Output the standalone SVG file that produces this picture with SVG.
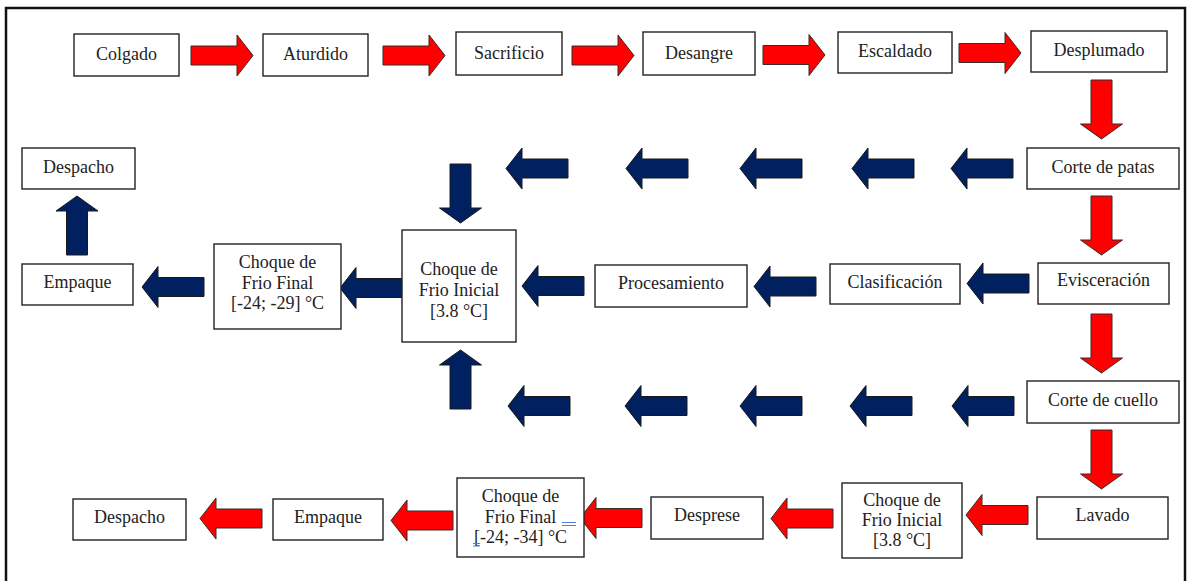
<svg xmlns="http://www.w3.org/2000/svg" width="1189" height="581" viewBox="0 0 1189 581">
<style>
.box{fill:#fff;stroke:#222;stroke-width:1.4}
.t{font-family:'Liberation Serif','DejaVu Serif','Times New Roman',serif;font-size:18px;fill:#222;text-anchor:middle}
.red{fill:#ff0000;stroke:#3a2a2a;stroke-width:1}
.blue{fill:#002060;stroke:#1a1a1a;stroke-width:1}
.mark{stroke:#4a7fe0;stroke-width:1}
</style>
<defs>
<path id="harr" d="M0,-9.5 H46 V-20.5 L62,0 L46,20.5 V9.5 H0 Z"/>
<path id="varr" d="M-10.5,0 V44 H-21 L0,59 L21,44 H10.5 V0 Z"/>
</defs>
<rect x="6" y="8" width="1179" height="590" fill="#fff" stroke="#111" stroke-width="2.5"/>

<g id="connectors">
<use href="#harr" class="red" transform="translate(191,55.5)"/>
<use href="#harr" class="red" transform="translate(383,55.5)"/>
<use href="#harr" class="red" transform="translate(572,55.5)"/>
<use href="#harr" class="red" transform="translate(763,55)"/>
<use href="#harr" class="red" transform="translate(959,53)"/>
<use href="#varr" class="red" transform="translate(1101.5,80)"/>
<use href="#varr" class="red" transform="translate(1101.5,196)"/>
<use href="#varr" class="red" transform="translate(1101.5,314)"/>
<use href="#varr" class="red" transform="translate(1101.5,430)"/>
<use href="#harr" class="blue" transform="translate(1013,168.5) scale(-1,1)"/>
<use href="#harr" class="blue" transform="translate(914,168.5) scale(-1,1)"/>
<use href="#harr" class="blue" transform="translate(802,168.5) scale(-1,1)"/>
<use href="#harr" class="blue" transform="translate(688,168.5) scale(-1,1)"/>
<use href="#harr" class="blue" transform="translate(568,168.5) scale(-1,1)"/>
<use href="#varr" class="blue" transform="translate(460.5,164)"/>
<use href="#varr" class="blue" transform="translate(77,255) scale(1,-1)"/>
<use href="#harr" class="blue" transform="translate(1029,283.5) scale(-1,1)"/>
<use href="#harr" class="blue" transform="translate(816,286.5) scale(-1,1)"/>
<use href="#harr" class="blue" transform="translate(584,286) scale(-1,1)"/>
<use href="#harr" class="blue" transform="translate(402,288) scale(-1,1)"/>
<use href="#harr" class="blue" transform="translate(204,287) scale(-1,1)"/>
<use href="#harr" class="blue" transform="translate(1014,406) scale(-1,1)"/>
<use href="#harr" class="blue" transform="translate(912,406) scale(-1,1)"/>
<use href="#harr" class="blue" transform="translate(802,406) scale(-1,1)"/>
<use href="#harr" class="blue" transform="translate(687,406) scale(-1,1)"/>
<use href="#harr" class="blue" transform="translate(570,406) scale(-1,1)"/>
<use href="#varr" class="blue" transform="translate(460.5,409) scale(1,-1)"/>
<use href="#harr" class="red" transform="translate(1028,515) scale(-1,1)"/>
<use href="#harr" class="red" transform="translate(833,518.5) scale(-1,1)"/>
<use href="#harr" class="red" transform="translate(642,518) scale(-1,1)"/>
<use href="#harr" class="red" transform="translate(453,520.5) scale(-1,1)"/>
<use href="#harr" class="red" transform="translate(262,518.5) scale(-1,1)"/>
</g>

<g id="colgado"><rect class="box" x="74" y="34" width="105" height="42"/><text class="t" x="126.5" y="60">Colgado</text></g>
<g id="aturdido"><rect class="box" x="263" y="34" width="105" height="42"/><text class="t" x="315.5" y="60">Aturdido</text></g>
<g id="sacrificio"><rect class="box" x="456" y="32" width="106" height="43"/><text class="t" x="509" y="58.5">Sacrificio</text></g>
<g id="desangre"><rect class="box" x="643" y="32" width="112" height="43"/><text class="t" x="699" y="58.5">Desangre</text></g>
<g id="escaldado"><rect class="box" x="838" y="32" width="114" height="41"/><text class="t" x="895" y="57">Escaldado</text></g>
<g id="desplumado"><rect class="box" x="1031" y="31" width="136" height="41"/><text class="t" x="1099" y="56">Desplumado</text></g>
<g id="corte-patas"><rect class="box" x="1027" y="148" width="152" height="41"/><text class="t" x="1103" y="173">Corte de patas</text></g>
<g id="despacho-1"><rect class="box" x="22" y="148" width="113" height="41"/><text class="t" x="78.5" y="173">Despacho</text></g>
<g id="evisceracion"><rect class="box" x="1038" y="263" width="131" height="41"/><text class="t" x="1103.5" y="286">Evisceración</text></g>
<g id="clasificacion"><rect class="box" x="830" y="264" width="130" height="40"/><text class="t" x="895" y="287.5">Clasificación</text></g>
<g id="procesamiento"><rect class="box" x="595" y="265" width="152" height="42"/><text class="t" x="671" y="288.5">Procesamiento</text></g>
<g id="choque-inicial-1"><rect class="box" x="402" y="230" width="114" height="112"/><text class="t" x="459" y="274.5">Choque de</text><text class="t" x="459" y="295.5">Frio Inicial</text><text class="t" x="459" y="316.5">[3.8 °C]</text></g>
<g id="choque-final-1"><rect class="box" x="214" y="244" width="127" height="85"/><text class="t" x="277.5" y="267.5">Choque de</text><text class="t" x="277.5" y="288.5">Frio Final</text><text class="t" x="277.5" y="309">[-24; -29] °C</text></g>
<g id="empaque-1"><rect class="box" x="22" y="264" width="111" height="41"/><text class="t" x="77.5" y="288">Empaque</text></g>
<g id="corte-cuello"><rect class="box" x="1027" y="381" width="152" height="42"/><text class="t" x="1103" y="406">Corte de cuello</text></g>
<g id="lavado"><rect class="box" x="1037" y="497" width="131" height="42"/><text class="t" x="1102.5" y="521">Lavado</text></g>
<g id="choque-inicial-2"><rect class="box" x="842" y="483" width="120" height="75"/><text class="t" x="902" y="505.5">Choque de</text><text class="t" x="902" y="526">Frio Inicial</text><text class="t" x="902" y="546">[3.8 °C]</text></g>
<g id="desprese"><rect class="box" x="651" y="497" width="112" height="42"/><text class="t" x="707" y="521">Desprese</text></g>
<g id="choque-final-2"><rect class="box" x="457" y="478" width="127" height="79"/><text class="t" x="520.5" y="501.5">Choque de</text><text class="t" x="520.5" y="522.5">Frio Final</text><text class="t" x="520.5" y="543">[-24; -34] °C</text><line class="mark" x1="562" y1="522.5" x2="576" y2="522.5"/><line class="mark" x1="562" y1="525.5" x2="576" y2="525.5"/><line class="mark" x1="473" y1="543.5" x2="480" y2="543.5"/><line class="mark" x1="473" y1="546" x2="480" y2="546"/></g>
<g id="empaque-2"><rect class="box" x="273" y="499" width="110" height="41"/><text class="t" x="328" y="522.5">Empaque</text></g>
<g id="despacho-2"><rect class="box" x="73" y="499" width="113" height="41"/><text class="t" x="129.5" y="522.5">Despacho</text></g>
</svg>
